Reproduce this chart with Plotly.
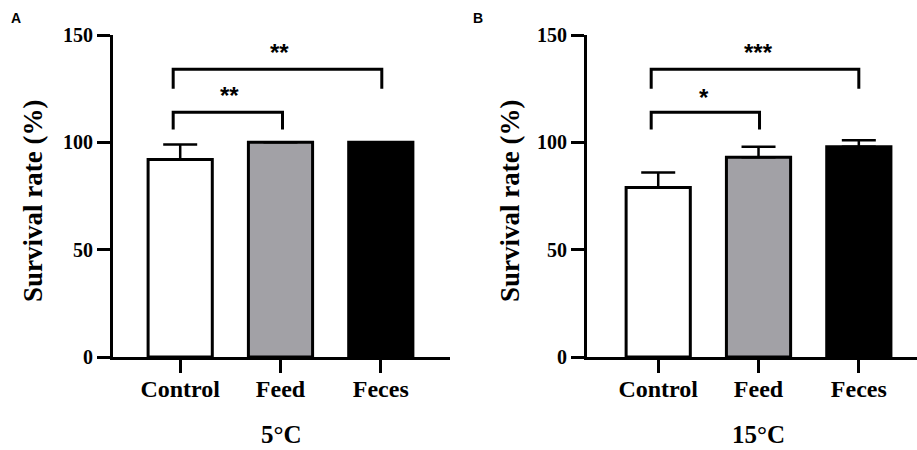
import plotly.graph_objects as go

categories = ["Control", "Feed", "Feces"]
mean_5 = [92, 100, 100]
err_5 = [7, 0, 0]
mean_15 = [79, 93, 98]
err_15 = [7, 5, 3]
bar_colors = ["#ffffff", "#a2a1a6", "#000000"]
yticks = [0, 50, 100, 150]

# significance brackets: (x_left, x_right, y_top, y_leg_bottom, label, label_x, label_y)
sig_5 = [(-0.07, 1.02, 114, 106, "**", 0.49, 122), (-0.07, 2.01, 134, 125, "**", 0.99, 142)]
sig_15 = [(-0.07, 1.01, 114, 106, "*", 0.46, 121), (-0.07, 2.0, 134, 125, "***", 1.0, 142)]

W, H = 917, 450
def px(x):
    return x / W
def py(y):
    return 1 - y / H

fig = go.Figure()
serif = "Liberation Serif, Times New Roman, serif"

panels = [
    (mean_5, err_5, "x", "y", sig_5),
    (mean_15, err_15, "x2", "y2", sig_15),
]
for means, errs, xa, ya, sig in panels:
    fig.add_trace(go.Bar(
        x=[0, 1, 2], y=means, width=0.64,
        marker=dict(color=bar_colors, line=dict(color="#000000", width=3)),
        error_y=dict(type="data", symmetric=False, array=errs, arrayminus=[0]*3,
                     color="#000000", thickness=2.5, width=17),
        xaxis=xa, yaxis=ya, showlegend=False,
    ))
    for xl, xr, yt, yb, lab, lx, ly in sig:
        fig.add_trace(go.Scatter(
            x=[xl, xl, xr, xr], y=[yb, yt, yt, yb], mode="lines",
            line=dict(color="#000000", width=3), xaxis=xa, yaxis=ya,
            showlegend=False, hoverinfo="skip",
        ))
        fig.add_annotation(x=lx, y=ly, xref=xa, yref=ya, text=lab, showarrow=False,
                           font=dict(family="Liberation Sans, Arial", size=24, color="#000000", weight="bold"),
                           xanchor="center", yanchor="middle")

common_x = dict(
    tickmode="array", tickvals=[0, 1, 2], ticktext=categories,
    showline=True, linecolor="#000000", linewidth=3,
    ticks="outside", ticklen=13, tickwidth=3, tickcolor="#000000",
    tickfont=dict(family=serif, size=24, color="#000000", weight="bold"),
    ticklabelstandoff=-5,
    showgrid=False, zeroline=False, fixedrange=True, automargin=False,
)
common_y = dict(
    range=[0, 150], tickmode="array", tickvals=yticks,
    showline=True, linecolor="#000000", linewidth=3,
    ticks="outside", ticklen=13, tickwidth=3, tickcolor="#000000",
    tickfont=dict(family=serif, size=20, color="#000000", weight="bold"),
    showgrid=False, zeroline=False, fixedrange=True, automargin=False,
)
ydom = [py(357), py(35)]
fig.update_layout(
    width=W, height=H, margin=dict(l=0, r=0, t=0, b=0, autoexpand=False),
    paper_bgcolor="#ffffff", plot_bgcolor="rgba(0,0,0,0)",
    xaxis=dict(common_x, domain=[px(113), px(450)], range=[-0.67, 2.69], anchor="y"),
    yaxis=dict(common_y, domain=ydom, anchor="x"),
    xaxis2=dict(common_x, domain=[px(587), 1.0], range=[-0.71, 2.58], anchor="y2"),
    yaxis2=dict(common_y, domain=ydom, anchor="x2"),
    bargap=0.36,
)

for text, x, y, angle, size in [
    ("Survival rate (%)", 33, 201, -90, 27),
    ("Survival rate (%)", 510, 201, -90, 27),
    ("5°C", 281, 434, 0, 25),
    ("15°C", 758, 434, 0, 25),
]:
    fig.add_annotation(x=px(x), y=py(y), xref="paper", yref="paper", text=text,
                       textangle=angle, showarrow=False,
                       font=dict(family=serif, size=size, color="#000000", weight="bold"),
                       xanchor="center", yanchor="middle")

for text, x in [("A", 16), ("B", 478)]:
    fig.add_annotation(x=px(x), y=py(18), xref="paper", yref="paper", text=text,
                       showarrow=False, xanchor="center", yanchor="middle",
                       font=dict(family="Liberation Sans, Arial", size=14, color="#000000", weight="bold"))

fig.write_html("out.html", config={"displayModeBar": False},
               post_script="document.body.style.margin='0px';document.body.style.overflow='hidden';")
